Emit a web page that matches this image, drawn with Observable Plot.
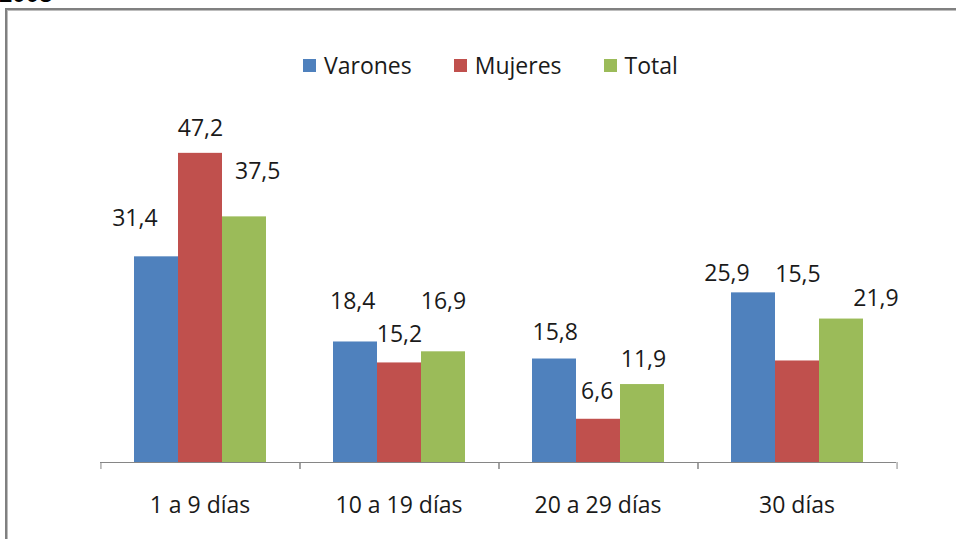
<!DOCTYPE html>
<html><head><meta charset="utf-8">
<script src="https://cdn.jsdelivr.net/npm/d3@7"></script>
<script src="https://cdn.jsdelivr.net/npm/@observablehq/plot@0.6"></script>
<style>
html,body{margin:0;padding:0;background:#fff;width:956px;height:539px;overflow:hidden;position:relative;}
#year{position:absolute;left:-1px;top:-18px;font:bold 24px "Liberation Sans",Arial,sans-serif;line-height:24px;color:#000;}
#box{position:absolute;left:5px;top:8px;width:1200px;height:800px;border:2px solid #808080;box-shadow:inset 1px 1px 0 #bdbdbd;}
#chart{position:absolute;left:0;top:0;}
#legend{position:absolute;left:303px;top:52px;}
#legend .lg-swatches{font-family:"Open Sans",sans-serif;font-size:23px;color:#1a1a1a;margin:0;min-height:0;line-height:26px;}
#legend .lg-swatch{margin-right:42px !important;}
#legend .lg-swatch > svg{margin-right:8px !important;}
</style></head><body>
<div id="year">2008</div>
<div id="box"></div>
<div id="chart"></div>
<div id="legend"></div>
<script>
const categories = ["1 a 9 días", "10 a 19 días", "20 a 29 días", "30 días"];
const series = ["Varones", "Mujeres", "Total"];
const varones = [31.4, 18.4, 15.8, 25.9];
const mujeres = [47.2, 15.2, 6.6, 15.5];
const total = [37.5, 16.9, 11.9, 21.9];
const colors = ["#4F81BD", "#C0504D", "#9BBB59"];

// layout: manual label nudges [dx, dy] (px), per category, per series
const labelNudge = [
  [[-21.6, -38.7], [0, -24.7], [13.2, -44.8]],
  [[-2.8, -40.2], [0, -28], [0, -50.2]],
  [[0.7, -26.8], [-1.3, -27.6], [1, -25.2]],
  [[-26.5, -19], [0.5, -86.7], [34.5, -20.1]]
];

const valuesBySeries = [varones, mujeres, total];
const rows = [];
categories.forEach((c, ci) => {
  series.forEach((s, si) => {
    rows.push({category: c, series: s, value: valuesBySeries[si][ci], ci, si});
  });
});
const fmt = v => v.toFixed(1).replace(".", ",");

const W = 956, H = 539;
const mL = 99, mR = 59, mB = 77, mT = 134.5;
const padOuter = 0.757;
const facetW = (W - mL - mR) / categories.length;
const step = facetW / (series.length + 2 * padOuter);
const edgeDx = padOuter * step + step / 2;

const labelMarks = rows.map((r, k) => Plot.text(rows, {
  filter: (d, i) => i === k,
  x: "series",
  y: "value",
  text: d => fmt(d.value),
  dx: labelNudge[r.ci][r.si][0],
  dy: labelNudge[r.ci][r.si][1],
  fill: "#1a1a1a",
  fontSize: 23
}));

const chart = Plot.plot({
  width: W,
  height: H,
  marginLeft: mL,
  marginRight: mR,
  marginTop: mT,
  marginBottom: mB,
  style: {fontFamily: "'Open Sans', sans-serif", fontSize: "23px", color: "#1a1a1a", background: "transparent", overflow: "visible"},
  facet: {data: rows, x: "category"},
  fx: {domain: categories, padding: 0, label: null, axis: "bottom", tickSize: 0, tickPadding: 34},
  x: {domain: series, type: "band", paddingInner: 0, paddingOuter: padOuter, axis: null},
  y: {domain: [0, 50], axis: null},
  color: {domain: series, range: colors},
  marks: [
    Plot.barY(rows, {x: "series", y: "value", fill: "series"}),
    Plot.ruleY([0], {stroke: "#868686", strokeWidth: 1}),
    Plot.ruleX([0], {x: () => series[0], y1: 0, y2: 0, insetBottom: -7, dx: -edgeDx, stroke: "#868686"}),
    Plot.ruleX([0], {x: () => series[series.length - 1], y1: 0, y2: 0, insetBottom: -7, dx: edgeDx, stroke: "#868686"}),
    ...labelMarks
  ]
});
document.getElementById("chart").appendChild(chart);
const leg = chart.legend("color", {swatchSize: 13, className: "lg"});
document.getElementById("legend").appendChild(leg);
</script>
</body></html>
